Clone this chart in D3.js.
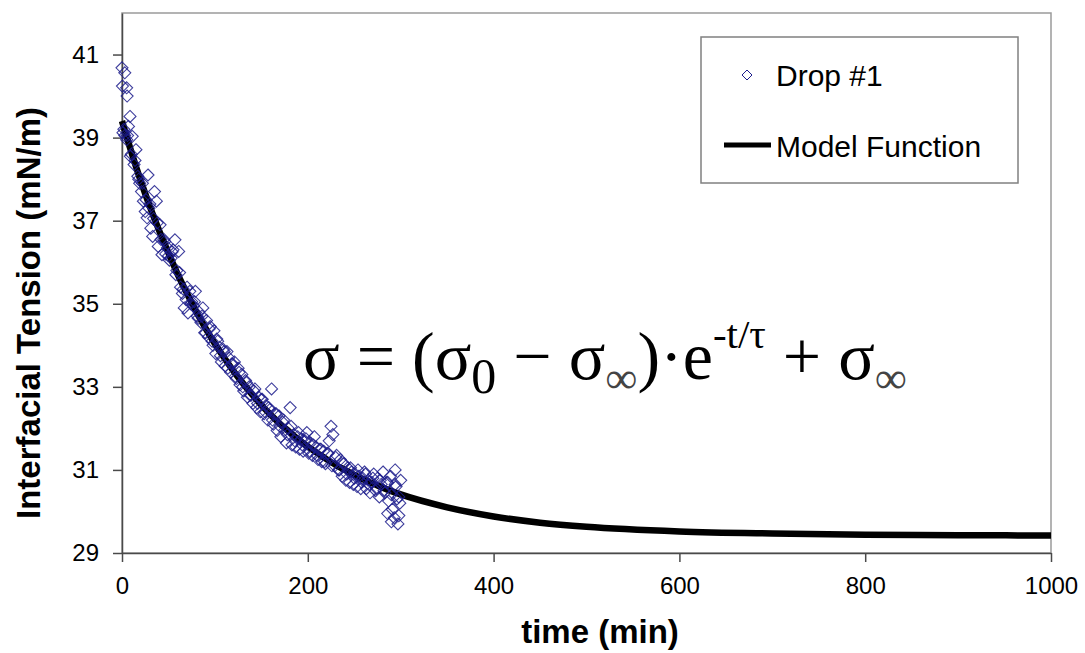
<!DOCTYPE html>
<html>
<head>
<meta charset="utf-8">
<script src="https://cdn.jsdelivr.net/npm/d3@7"></script>
<style>
body { margin: 0; background: #fff; }
</style>
</head>
<body>
<svg id="chart"></svg>
<script>
'use strict';

const dropTime = [
	0, 0.5, 3, 5, 5.5, 8.6,
	1, 3, 5, 7, 9, 11, 13, 15, 17, 19, 21, 23, 25, 27, 28, 29, 31, 33, 35, 37, 39,
	41, 43, 45, 47, 49, 51, 53, 55, 57, 59, 61, 63, 65, 67, 69, 71, 73, 75, 77, 79,
	81, 83, 85, 87, 89, 91, 93, 95, 97, 99, 101, 103, 105, 107, 109, 111, 113, 115, 117, 119,
	121, 123, 125, 127, 129, 131, 133, 135, 137, 139, 141, 143, 145, 147, 149, 151, 153, 155, 157, 159,
	161, 163, 165, 167, 169, 171, 173, 175, 177, 179, 181, 183, 185, 187, 189, 191, 193, 195, 197, 199,
	201, 203, 205, 207, 209, 211, 213, 215, 217, 219, 221, 223, 225, 227, 229, 231, 233, 235, 237, 239,
	241, 243, 245, 247, 249, 251, 253, 255, 257, 259, 261, 263, 265, 267, 269, 271, 273, 275, 277, 279,
	281, 283, 285, 287, 289, 291, 293, 295, 297, 299,
	286, 290, 294, 296, 298, 300,
	2, 6, 10, 14, 18, 22, 26, 30, 34, 38, 42, 46, 50, 54, 58, 62, 66, 70, 74, 78,
	82, 86, 90, 94, 98, 102, 106, 110, 114, 118, 122, 126, 130, 134, 138, 142, 146, 150, 154, 158,
	162, 166, 170, 174, 178, 182, 186, 190, 194, 198, 202, 206, 210, 214, 218, 222, 226, 230, 234, 238,
	242, 246, 250, 254, 258, 262, 266, 270, 274, 278, 282, 286, 290, 294, 298
];
const dropValue = [
	40.68, 40.24, 40.56, 40.20, 40.00, 39.51,
	39.12, 39.05, 38.95, 39.27, 38.55, 39.03, 38.35, 38.71, 38.07, 37.90, 37.70, 37.47, 37.22, 37.07, 38.10, 37.30, 36.82, 36.62, 37.70, 37.47, 36.38,
	36.90, 36.18, 36.55, 36.20, 36.35, 36.05, 36.10, 36.30, 36.54, 35.80, 36.26, 35.40, 35.25, 34.90, 35.10, 34.78, 35.30, 35.05, 34.95, 35.30,
	34.70, 34.80, 34.55, 34.90, 34.30, 34.60, 34.20, 34.45, 34.10, 34.35, 33.80, 34.10, 33.95, 33.60, 33.90, 33.50, 33.85, 33.70, 33.35, 33.55,
	33.60, 33.20, 33.45, 33.05, 33.30, 32.90, 33.15, 32.75, 33.00, 32.80, 32.60, 32.95, 32.50, 32.75, 32.40, 32.70, 32.35, 32.55, 32.20, 32.45,
	32.95, 32.10, 32.35, 31.95, 32.30, 31.80, 32.15, 31.95, 31.65, 32.00, 32.50, 31.60, 31.85, 31.55, 31.80, 31.50, 31.75, 31.45, 31.70, 31.90,
	31.40, 31.65, 31.35, 31.80, 31.55, 31.25, 31.50, 31.20, 31.45, 31.15, 31.40, 31.70, 32.05, 31.85, 31.10, 31.35, 31.00, 31.25, 30.85, 31.15,
	30.75, 31.05, 30.70, 30.95, 30.65, 30.90, 30.60, 30.85, 30.55, 30.80, 30.95, 30.55, 30.75, 30.45, 30.70, 30.90, 30.50, 30.80, 30.35, 30.65,
	30.95, 30.45, 30.70, 30.25, 30.85, 30.05, 29.85, 30.60, 29.70, 30.20,
	29.95, 29.75, 31.00, 30.30, 29.90, 30.75,
	39.20, 39.05, 38.60, 38.45, 38.00, 37.90, 37.50, 37.40, 37.05, 36.95, 36.55, 36.50, 36.15, 36.25, 35.70, 35.75, 35.35, 35.40, 35.00, 35.05,
	34.65, 34.70, 34.30, 34.40, 34.00, 34.15, 33.75, 33.85, 33.45, 33.55, 33.25, 33.35, 33.00, 33.10, 32.80, 32.90, 32.60, 32.70, 32.40, 32.50,
	32.20, 32.35, 32.05, 32.20, 31.85, 32.05, 31.70, 31.90, 31.60, 31.75, 31.45, 31.60, 31.35, 31.50, 31.20, 31.40, 31.10, 31.30, 31.00, 31.15,
	30.90, 31.05, 30.80, 31.00, 30.70, 30.90, 30.65, 30.80, 30.55, 30.75, 30.50, 30.70, 30.40, 30.65, 30.35
];

//Model function, sampled along the drawn curve.
const modelTime = [0, 10, 20, 30, 40, 50, 60, 70, 80, 90, 100, 110, 120, 130, 140, 150, 160, 170, 180, 190,
	200, 210, 220, 230, 240, 250, 260, 270, 280, 290, 300, 350, 400, 450, 500, 600, 700, 800, 900, 1000];
const modelValue = [39.40, 38.66, 37.97, 37.34, 36.76, 36.22, 35.71, 35.25, 34.81, 34.41, 34.04, 33.70, 33.38, 33.09, 32.82, 32.56, 32.33, 32.11, 31.92, 31.73,
	31.56, 31.41, 31.26, 31.12, 31.00, 30.88, 30.77, 30.67, 30.58, 30.49, 30.41, 30.10, 29.88, 29.73, 29.63, 29.52, 29.47, 29.44, 29.43, 29.42];

const xTicks = [0, 200, 400, 600, 800, 1000];
const yTicks = [29, 31, 33, 35, 37, 39, 41];
const legendLabels = ['Drop #1', 'Model Function'];

const width = 1085;
const height = 653;
const margin = {top: 13, right: 34, bottom: 100, left: 122};
const innerWidth = width - margin.left - margin.right;
const innerHeight = height - margin.top - margin.bottom;

const xScale = d3.scaleLinear().domain([0, 1000]).range([0, innerWidth]);
const yScale = d3.scaleLinear().domain([29, 42]).range([innerHeight, 0]);

const svg = d3.select('#chart')
	.attr('width', width)
	.attr('height', height)
	.style('font-family', 'Arial, "Liberation Sans", sans-serif');

const g_el = svg.append('g')
	.attr('transform', `translate(${margin.left}, ${margin.top})`);

//Plot area border (top and right show as grey).
g_el.append('rect')
	.attr('x', 0).attr('y', 0)
	.attr('width', innerWidth).attr('height', innerHeight)
	.attr('fill', 'none')
	.attr('stroke', '#9a9a9a')
	.attr('stroke-width', 1.5);

//Axes. Plain integer labels, no thousands separator.
const xAxis = d3.axisBottom(xScale).tickValues(xTicks).tickFormat(d3.format('d'))
	.tickSize(9).tickPadding(15).tickSizeOuter(0);
const yAxis = d3.axisLeft(yScale).tickValues(yTicks).tickFormat(d3.format('d'))
	.tickSize(9).tickPadding(14).tickSizeOuter(0);
g_el.append('g')
	.attr('transform', `translate(0, ${innerHeight})`)
	.call(xAxis);
g_el.append('g')
	.call(yAxis);
g_el.selectAll('.domain, .tick line')
	.attr('stroke', '#4a4a4a')
	.attr('stroke-width', 1.5);
g_el.selectAll('.tick text')
	.attr('fill', '#000')
	.style('font-size', '24px')
	.style('font-family', 'Arial, "Liberation Sans", sans-serif');

//Model function line.
const model = modelTime.map((t, i) => [t, modelValue[i]]);
const line = d3.line()
	.x((d) => {return xScale(d[0]);})
	.y((d) => {return yScale(d[1]);})
	.curve(d3.curveMonotoneX);
g_el.append('path')
	.datum(model)
	.attr('d', line)
	.attr('fill', 'none')
	.attr('stroke', '#000')
	.attr('stroke-width', 6.5);

//Diamond markers for the drop data.
function diamond(r) {
	return `M0,${-r}L${r},0L0,${r}L${-r},0Z`;
}
const markerColor = '#1c1c8c';
g_el.selectAll('wombat')
	.data(dropTime.map((t, i) => [t, dropValue[i]]))
	.enter()
	.append('path')
	.attr('d', diamond(6))
	.attr('transform', (d) => {return `translate(${xScale(d[0])}, ${yScale(d[1])})`;})
	.attr('fill', 'none')
	.attr('stroke', markerColor)
	.attr('stroke-opacity', 0.85)
	.attr('stroke-width', 1.1);

//Equation, built from separate pieces laid out left to right.
//Each piece: text, font size, vertical shift from the baseline, colour.
const eqParts = [
	['σ = (σ', 68, 0, '#000'],
	['0', 50, 14, '#000'],
	['\u00a0− σ', 68, 0, '#000'],
	['∞', 45, 14, '#444'],
	[')·e', 68, 0, '#000'],
	['-t/τ', 41, -31, '#000'],
	['\u00a0+ σ', 68, 0, '#000'],
	['∞', 45, 14, '#444']
];
const eqG = svg.append('g')
	.style('font-family', '"Times New Roman", "Liberation Serif", serif');
let eqX = 303;
const eqY = 379;
eqParts.forEach((p) => {
	const t = eqG.append('text')
		.attr('x', eqX)
		.attr('y', eqY + p[2])
		.style('font-size', p[1] + 'px')
		.style('white-space', 'pre')
		.attr('fill', p[3])
		.text(p[0]);
	eqX += t.node().getComputedTextLength();
});

//Legend.
const legend = svg.append('g');
legend.append('rect')
	.attr('x', 701).attr('y', 37)
	.attr('width', 317).attr('height', 146)
	.attr('fill', '#fff')
	.attr('stroke', '#808080')
	.attr('stroke-width', 1.5);
legend.append('path')
	.attr('d', diamond(5))
	.attr('transform', 'translate(747, 75)')
	.attr('fill', 'none')
	.attr('stroke', markerColor)
	.attr('stroke-width', 1);
legend.append('line')
	.attr('x1', 724).attr('x2', 771)
	.attr('y1', 145).attr('y2', 145)
	.attr('stroke', '#000')
	.attr('stroke-width', 5);
legend.selectAll('text')
	.data(legendLabels)
	.enter()
	.append('text')
	.attr('x', 776)
	.attr('y', (d, i) => {return i === 0 ? 86 : 157;})
	.style('font-size', '30px')
	.attr('fill', '#000')
	.text((d) => {return d;});

//Axis titles.
svg.append('text')
	.attr('transform', 'translate(40, 313) rotate(-90)')
	.attr('text-anchor', 'middle')
	.style('font-size', '33px')
	.style('font-weight', 'bold')
	.text('Interfacial Tension (mN/m)');
svg.append('text')
	.attr('x', 600)
	.attr('y', 643)
	.attr('text-anchor', 'middle')
	.style('font-size', '33px')
	.style('font-weight', 'bold')
	.text('time (min)');
</script>
</body>
</html>
